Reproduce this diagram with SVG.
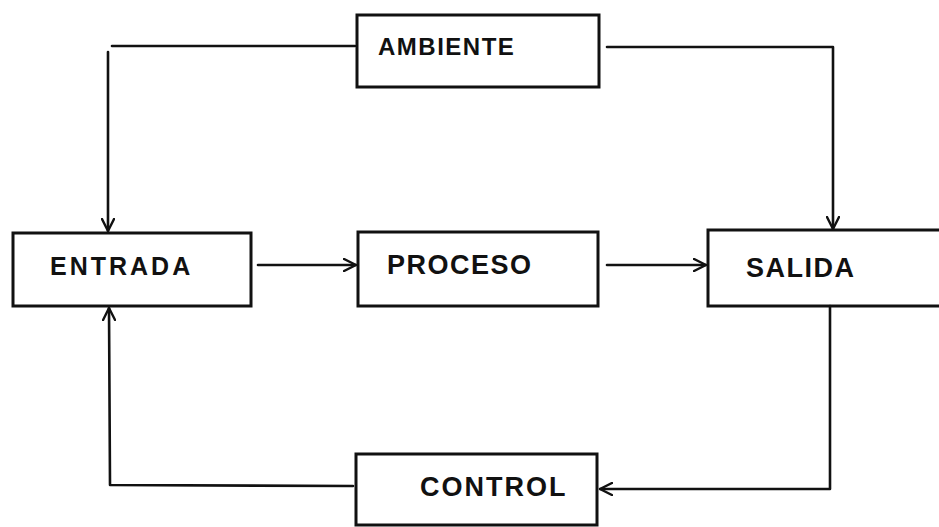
<svg xmlns="http://www.w3.org/2000/svg" width="939" height="527" viewBox="0 0 939 527">
<style>
.box{fill:none;stroke:#111;stroke-width:3}
.lbl{font-family:"Liberation Sans",Arial,sans-serif;font-weight:bold;fill:#111;font-size:26px;letter-spacing:1.5px}
.con{fill:none;stroke:#111;stroke-width:2.6;stroke-linecap:round;stroke-linejoin:round}
</style>
<defs>
<marker id="ah" viewBox="0 0 14 14" refX="13" refY="7" markerWidth="14" markerHeight="14" markerUnits="userSpaceOnUse" orient="auto">
<path d="M1,1 L13,7 L1,13" fill="none" stroke="#111" stroke-width="2.4" stroke-linecap="round" stroke-linejoin="round"/>
</marker>
</defs>
<rect width="939" height="527" fill="#fff"/>
<g id="connectors">
<path class="con" d="M355,46 L112,46"/>
<path class="con" d="M108,52 L108,231" marker-end="url(#ah)"/>
<path class="con" d="M607,47 L833,47 L833,229" marker-end="url(#ah)"/>
<path class="con" d="M258,265 L356,265" marker-end="url(#ah)"/>
<path class="con" d="M607,265 L706,265" marker-end="url(#ah)"/>
<path class="con" d="M830,306 L830,489 L600,489" marker-end="url(#ah)"/>
<path class="con" d="M353,486 L110,485 L109,308" marker-end="url(#ah)"/>
</g>
<g id="ambiente">
<rect class="box" x="357" y="15" width="242" height="72"/>
<text class="lbl" x="378" y="55" style="font-size:24px">AMBIENTE</text>
</g>
<g id="entrada">
<rect class="box" x="13" y="233" width="238" height="73"/>
<text class="lbl" x="50" y="275" style="letter-spacing:3px;font-size:25px">ENTRADA</text>
</g>
<g id="proceso">
<rect class="box" x="358" y="232" width="240" height="74"/>
<text class="lbl" x="387" y="274" style="font-size:27px">PROCESO</text>
</g>
<g id="salida">
<rect class="box" x="708" y="230" width="240" height="76"/>
<text class="lbl" x="746" y="277" style="font-size:27px">SALIDA</text>
</g>
<g id="control">
<rect class="box" x="356" y="454" width="241" height="71"/>
<text class="lbl" x="420" y="496" style="font-size:27px;letter-spacing:2px">CONTROL</text>
</g>
</svg>
